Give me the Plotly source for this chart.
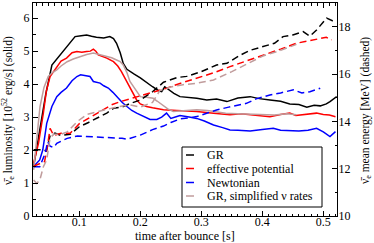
import plotly.graph_objects as go

# ---- data ----
gr_lum_t = [0.025,0.035,0.045,0.055,0.065,0.074,0.085,0.093,0.103,0.112,0.12,0.128,0.14,0.15,0.156,0.161,0.167,0.172,0.178,0.183,0.19,0.2,0.21,0.22,0.23,0.235,0.24,0.245,0.255,0.265,0.28,0.2925,0.309,0.325,0.342,0.36,0.38,0.395,0.4125,0.43,0.445,0.46,0.473,0.485,0.495,0.505,0.511,0.522]
gr_lum   = [1.5,2.6,3.7,4.58,4.8,4.99,5.25,5.44,5.47,5.49,5.45,5.42,5.40,5.44,5.38,5.24,4.95,4.63,4.45,4.38,4.3,4.19,4.05,3.92,3.8,3.77,3.92,3.85,3.72,3.62,3.6,3.57,3.52,3.55,3.47,3.58,3.62,3.56,3.52,3.48,3.4,3.38,3.3,3.36,3.34,3.4,3.47,3.62]

gr_en_t = [0.025,0.04,0.046,0.052,0.06,0.07,0.085,0.1,0.115,0.1285,0.145,0.156,0.17,0.183,0.2,0.22,0.238,0.26,0.276,0.3,0.325,0.342,0.364,0.38,0.402,0.42,0.434,0.45,0.467,0.478,0.489,0.5055,0.515,0.522]
gr_en   = [12.8,12.8,12.75,13.4,13.5,13.4,13.45,13.77,13.95,14.13,14.35,14.55,14.6,14.75,14.9,15.25,15.65,15.85,15.9,16.1,16.38,16.45,16.8,17.0,17.16,17.3,17.58,17.65,17.79,17.6,17.86,18.36,18.25,18.21]

ep_lum_t = [0.025,0.033,0.041,0.046,0.052,0.063,0.07,0.079,0.088,0.096,0.104,0.112,0.118,0.123,0.127,0.131,0.138,0.145,0.156,0.163,0.169,0.176,0.183,0.19,0.194,0.2,0.21,0.22,0.238,0.26,0.2925,0.32,0.347,0.365,0.38,0.395,0.4125,0.43,0.445,0.455,0.467,0.48,0.489,0.5,0.51,0.52]
ep_lum   = [1.6,2.2,3.12,3.8,4.23,4.53,4.7,4.79,4.95,4.99,4.97,4.99,5.0,5.06,5.0,4.89,4.85,4.79,4.68,4.55,4.38,4.15,3.92,3.65,3.52,3.4,3.32,3.28,3.22,3.2,3.17,3.12,3.07,3.1,3.07,3.05,3.01,3.08,3.12,3.05,3.07,3.1,3.12,3.08,3.06,3.01]

ep_en_t = [0.025,0.035,0.043,0.048,0.052,0.058,0.07,0.085,0.1,0.12,0.139,0.153,0.167,0.183,0.2,0.22,0.243,0.265,0.292,0.32,0.347,0.375,0.402,0.43,0.456,0.475,0.495,0.505,0.514]
ep_en   = [12.1,12.2,12.3,13.0,13.7,13.4,13.5,13.5,13.9,14.2,14.48,14.7,14.83,14.95,15.1,15.25,15.4,15.6,15.82,16.05,16.31,16.55,16.8,17.05,17.3,17.4,17.51,17.55,17.44]

nw_lum_t = [0.025,0.035,0.04,0.0465,0.055,0.063,0.07,0.079,0.088,0.096,0.102,0.11,0.1175,0.123,0.134,0.14,0.1475,0.155,0.161,0.17,0.178,0.186,0.194,0.2,0.216,0.227,0.235,0.243,0.25,0.26,0.265,0.28,0.2925,0.305,0.32,0.335,0.347,0.36,0.38,0.4,0.418,0.43,0.445,0.46,0.475,0.489,0.5,0.511,0.52]
nw_lum   = [1.5,1.7,2.0,2.81,3.32,3.62,3.75,3.88,4.1,4.23,4.28,4.25,4.23,4.08,4.03,3.95,3.88,3.75,3.62,3.45,3.32,3.2,3.12,3.07,2.93,2.93,3.0,3.12,2.96,3.02,3.05,3.0,2.96,2.88,2.76,2.68,2.61,2.6,2.58,2.62,2.66,2.6,2.58,2.58,2.6,2.66,2.55,2.41,2.56]

nw_en_t = [0.025,0.035,0.044,0.048,0.052,0.058,0.063,0.08,0.097,0.113,0.13,0.155,0.17,0.178,0.19,0.2,0.22,0.238,0.25,0.265,0.28,0.2925,0.31,0.325,0.345,0.374,0.39,0.4125,0.43,0.451,0.465,0.478,0.495]
nw_en   = [12.08,12.08,12.65,13.14,12.95,12.9,13.07,13.28,13.38,13.36,13.35,13.33,13.28,13.24,13.35,13.42,13.65,13.8,13.95,14.1,14.15,14.2,14.35,14.48,14.6,14.76,14.95,15.11,15.2,15.33,15.2,15.25,15.4]

gs_lum_t = [0.025,0.03,0.0355,0.042,0.049,0.056,0.063,0.07,0.08,0.09,0.101,0.112,0.123,0.133,0.145,0.153,0.161,0.167,0.172,0.178,0.183,0.19,0.194,0.2,0.21,0.221,0.228,0.232,0.245,0.254,0.27,0.2925,0.31,0.32,0.34,0.36,0.38,0.402,0.42,0.44,0.456]
gs_lum   = [1.4,2.3,3.32,3.9,4.23,4.35,4.43,4.55,4.68,4.76,4.83,4.9,4.94,4.9,4.83,4.8,4.73,4.68,4.58,4.35,4.08,3.88,3.77,3.62,3.6,3.57,3.48,3.42,3.25,3.17,3.2,3.22,3.2,3.17,3.12,3.1,3.08,3.07,3.06,3.1,3.07]

gs_en_t = [0.025,0.03,0.035,0.041,0.0465,0.052,0.058,0.07,0.08,0.097,0.113,0.13,0.145,0.16,0.183,0.2,0.22,0.232,0.25,0.27,0.29,0.32,0.35,0.38,0.4,0.43,0.456]
gs_en   = [11.52,11.38,11.5,12.08,12.37,13.3,13.45,13.45,13.55,14.0,14.3,14.4,14.5,14.6,14.7,14.6,14.8,15.3,15.45,15.55,15.6,15.75,16.1,16.5,16.75,17.0,17.25]

names = ["GR", "effective potential", "Newtonian", "GR, simplified \u03bd rates"]
colors = ["#000000", "#ff0000", "#0000ff", "#c09c9c"]

lum_sets = [(gr_lum_t, gr_lum), (ep_lum_t, ep_lum), (nw_lum_t, nw_lum), (gs_lum_t, gs_lum)]
en_sets = [(gr_en_t, gr_en), (ep_en_t, ep_en), (nw_en_t, nw_en), (gs_en_t, gs_en)]

fig = go.Figure()
for (t, e), c in zip(en_sets, colors):
    fig.add_trace(go.Scatter(x=t, y=e, mode="lines", yaxis="y2", showlegend=False,
                             line=dict(color=c, width=1.5, dash="7px,4px")))
for (t, l), c, n in zip(lum_sets, colors, names):
    fig.add_trace(go.Scatter(x=t, y=l, mode="lines", name=n, showlegend=False,
                             line=dict(color=c, width=1.5)))

font = "Liberation Serif, Times New Roman, Times, serif"
vbar = "\u03bd\u0304"

L, R, T, B = 33, 337, 3, 216

def px2dx(px):
    return (px - L) / float(R - L)

def py2dy(py):
    return (B - py) / float(B - T)

# ---- legend box ----
shapes = [dict(type="rect", xref="paper", yref="paper",
               x0=px2dx(182), x1=px2dx(322), y0=py2dy(207), y1=py2dy(147),
               line=dict(color="black", width=1), fillcolor="white", layer="above")]
annotations = []
row_y = [155, 168.5, 182.5, 196]
for n, c, ry in zip(names, colors, row_y):
    shapes.append(dict(type="line", xref="paper", yref="paper",
                       x0=px2dx(186), x1=px2dx(194), y0=py2dy(ry), y1=py2dy(ry),
                       line=dict(color=c, width=1.5), layer="above"))
    annotations.append(dict(xref="paper", yref="paper", x=px2dx(205), y=py2dy(ry),
                            xanchor="left", yanchor="middle", text=n, showarrow=False,
                            font=dict(family=font, size=12, color="black")))

# ---- axis titles ----
annotations.append(dict(xref="paper", yref="paper", x=px2dx(185), y=py2dy(236),
                        xanchor="center", yanchor="middle", showarrow=False,
                        text="time after bounce [s]", font=dict(family=font, size=12)))
annotations.append(dict(xref="paper", yref="paper", x=px2dx(8), y=py2dy(111),
                        xanchor="center", yanchor="middle", showarrow=False, textangle=-90,
                        text=vbar + "<sub>e</sub> luminosity [10<sup>52</sup> erg/s] (solid)",
                        font=dict(family=font, size=11.5)))
annotations.append(dict(xref="paper", yref="paper", x=px2dx(366), y=py2dy(111),
                        xanchor="center", yanchor="middle", showarrow=False, textangle=-90,
                        text=vbar + "<sub>e</sub> mean energy [MeV] (dashed)",
                        font=dict(family=font, size=11.5)))

axis_common = dict(ticks="inside", ticklen=5, tickcolor="black", showline=True,
                   linecolor="black", linewidth=1, showgrid=False, zeroline=False,
                   automargin=False, tickfont=dict(size=12, family=font))

fig.update_layout(
    width=374, height=243,
    margin=dict(l=L, r=374 - R, t=T, b=243 - B, pad=0),
    paper_bgcolor="white", plot_bgcolor="white",
    font=dict(family=font, size=12, color="black"),
    showlegend=False,
    shapes=shapes, annotations=annotations,
    xaxis=dict(range=[0.024, 0.5225], tickvals=[0.1, 0.2, 0.3, 0.4, 0.5],
               ticktext=["0.1", "0.2", "0.3", "0.4", "0.5"], mirror="ticks",
               ticklabelstandoff=-5,
               minor=dict(dtick=0.01, ticks="inside", ticklen=2.5, tickcolor="black"),
               **axis_common),
    yaxis=dict(range=[0, 6.46], tickvals=[0, 1, 2, 3, 4, 5, 6],
               minor=dict(dtick=0.5, ticks="inside", ticklen=2.5, tickcolor="black"),
               **axis_common),
    yaxis2=dict(range=[10, 19], tickvals=[10, 12, 14, 16, 18], overlaying="y", side="right",
                ticklabelstandoff=-2,
                minor=dict(dtick=1, ticks="inside", ticklen=2.5, tickcolor="black"),
                **axis_common),
)

fig.write_html("out.html",
               config={"displayModeBar": False, "staticPlot": True},
               post_script="document.documentElement.style.margin='0';"
                           "document.body.style.margin='0';"
                           "document.body.style.padding='0';"
                           "document.body.style.overflow='hidden';")
